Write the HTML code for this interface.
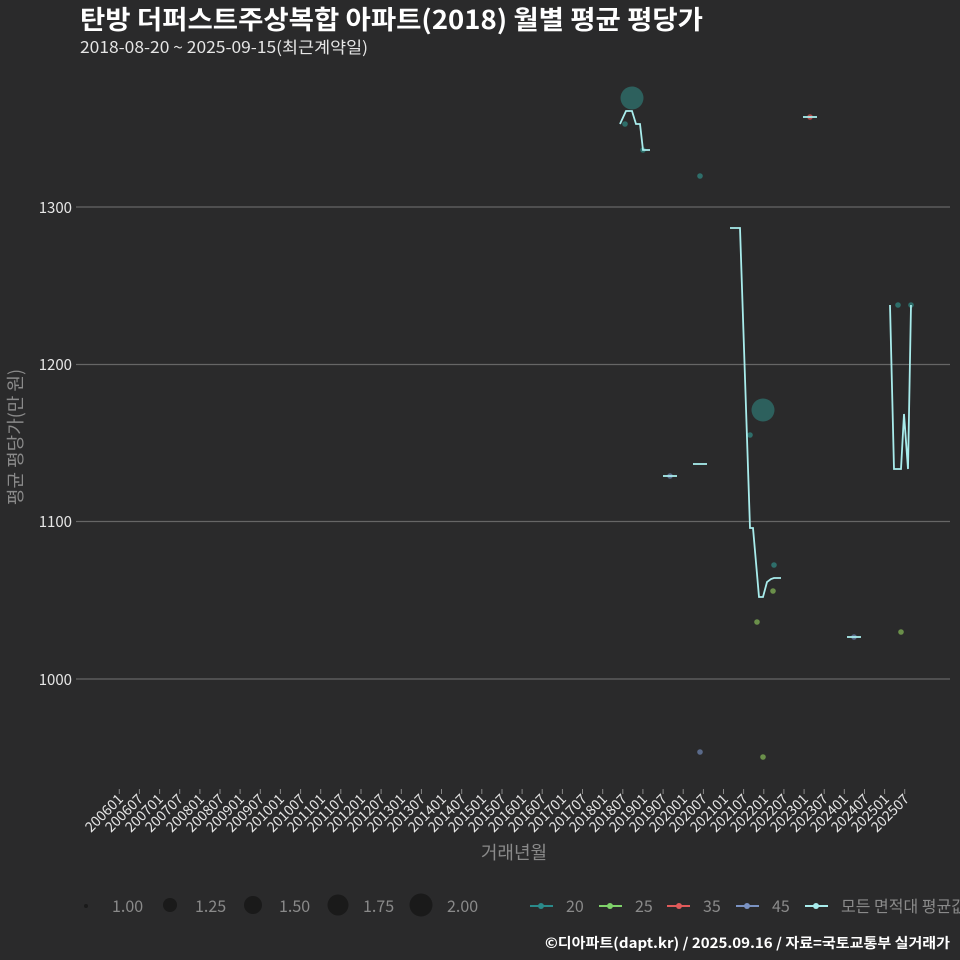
<!DOCTYPE html>
<html><head><meta charset="utf-8"><style>
html,body{margin:0;padding:0;background:#2a2a2b;}
svg{display:block;font-family:"Noto Sans CJK KR","Liberation Sans",sans-serif;}
</style></head><body>
<svg width="960" height="960" viewBox="0 0 960 960" xmlns="http://www.w3.org/2000/svg">
<rect width="960" height="960" fill="#2a2a2b"/>
<text x="80" y="29" fill="#ffffff" font-size="26" font-weight="bold" textLength="623" lengthAdjust="spacingAndGlyphs">탄방 더퍼스트주상복합 아파트(2018) 월별 평균 평당가</text>
<text x="80" y="53" fill="#e6e6e6" font-size="16" textLength="288" lengthAdjust="spacingAndGlyphs">2018-08-20 ~ 2025-09-15(최근계약일)</text>
<g stroke="#666" stroke-width="1.2">
<line x1="80" y1="207" x2="950" y2="207"/>
<line x1="80" y1="364.5" x2="950" y2="364.5"/>
<line x1="80" y1="521.5" x2="950" y2="521.5"/>
<line x1="80" y1="679" x2="950" y2="679"/>
<line x1="76" y1="207" x2="80" y2="207"/><line x1="76" y1="364.5" x2="80" y2="364.5"/><line x1="76" y1="521.5" x2="80" y2="521.5"/><line x1="76" y1="679" x2="80" y2="679"/>
</g>
<g fill="#e6e6e6" font-size="15" text-anchor="end">
<text x="72" y="213">1300</text><text x="72" y="370">1200</text><text x="72" y="527">1100</text><text x="72" y="685">1000</text>
</g>
<text transform="translate(22,437) rotate(-90)" fill="#8a8a8a" font-size="18" text-anchor="middle">평균 평당가(만 원)</text>
<text x="514" y="859" fill="#8a8a8a" font-size="18" text-anchor="middle">거래년월</text>
<g>
<circle cx="632" cy="98" r="11.5" fill="#2e6e6a" opacity="0.8"/>
<circle cx="763" cy="410" r="11.5" fill="#2e6e6a" opacity="0.8"/>
<circle cx="700" cy="176" r="2.8" fill="#2e6e6a"/>
<circle cx="750" cy="435" r="2.8" fill="#2e6e6a"/>
<circle cx="774" cy="565" r="2.8" fill="#2e6e6a"/>
<circle cx="898" cy="305" r="2.8" fill="#2e6e6a"/>
<circle cx="911" cy="305" r="2.8" fill="#2e6e6a"/>
<circle cx="625" cy="124" r="2.8" fill="#2e6e6a"/>
<circle cx="643" cy="150" r="2.8" fill="#2e6e6a"/>
<circle cx="773" cy="591" r="2.8" fill="#6a8f4a"/>
<circle cx="757" cy="622" r="2.8" fill="#6a8f4a"/>
<circle cx="763" cy="757" r="2.8" fill="#6a8f4a"/>
<circle cx="901" cy="632" r="2.8" fill="#6a8f4a"/>
<circle cx="700" cy="752" r="2.8" fill="#5a6a8a"/>
<circle cx="670" cy="476" r="2.8" fill="#5a6a8a"/>
<circle cx="854" cy="637" r="2.8" fill="#5a6a8a"/>
<circle cx="810" cy="117" r="2.8" fill="#b04a4a"/>
</g>
<g fill="none" stroke="#a8ecec" stroke-width="1.8">
<polyline points="620,124 626,111 632,111 636,124 640,124 643,150 650,150"/>
<polyline points="663,476 677,476"/>
<polyline points="693,464 707,464"/>
<polyline points="730,228 740,228 750,528 753,528 759,597 763,597 767,582 771,579 774,578 781,578"/>
<polyline points="803,117 817,117"/>
<polyline points="847,637 861,637"/>
<polyline points="890,305 894,469 901,469 904,414 908,469 911,305"/>
</g>
<g fill="#8a8a8a" font-size="16">
<circle cx="86" cy="906" r="2" fill="#1a1a1a"/><text x="112" y="912">1.00</text>
<circle cx="170" cy="905" r="7" fill="#1a1a1a"/><text x="195" y="912">1.25</text>
<circle cx="253" cy="905" r="9" fill="#1a1a1a"/><text x="279" y="912">1.50</text>
<circle cx="338" cy="905" r="10.5" fill="#1a1a1a"/><text x="363" y="912">1.75</text>
<circle cx="421" cy="905" r="11.5" fill="#1a1a1a"/><text x="447" y="912">2.00</text>
<line x1="530" y1="906" x2="553" y2="906" stroke="#2a8a8a" stroke-width="2"/><circle cx="541" cy="906" r="3" fill="#2a8a8a"/><text x="566" y="912">20</text>
<line x1="599" y1="906" x2="622" y2="906" stroke="#7fd26a" stroke-width="2"/><circle cx="610" cy="906" r="3" fill="#7fd26a"/><text x="635" y="912">25</text>
<line x1="667" y1="906" x2="690" y2="906" stroke="#e05a5a" stroke-width="2"/><circle cx="679" cy="906" r="3" fill="#e05a5a"/><text x="703" y="912">35</text>
<line x1="736" y1="906" x2="759" y2="906" stroke="#7a92c2" stroke-width="2"/><circle cx="747" cy="906" r="3" fill="#7a92c2"/><text x="772" y="912">45</text>
<line x1="805" y1="906" x2="828" y2="906" stroke="#a8ecec" stroke-width="2"/><circle cx="816" cy="906" r="3" fill="#a8ecec"/><text x="841" y="912">모든 면적대 평균값</text>
</g>
<text x="950" y="948" fill="#ffffff" font-size="14" font-weight="bold" text-anchor="end" textLength="405" lengthAdjust="spacingAndGlyphs">©디아파트(dapt.kr) / 2025.09.16 / 자료=국토교통부 실거래가</text>
<g font-size="14" fill="#e6e6e6" text-anchor="end">
<line x1="119.3" y1="789" x2="119.3" y2="794" stroke="#888"/><text transform="translate(124,800) rotate(-45)">200601</text>
<line x1="139.4" y1="789" x2="139.4" y2="794" stroke="#888"/><text transform="translate(144,800) rotate(-45)">200607</text>
<line x1="159.6" y1="789" x2="159.6" y2="794" stroke="#888"/><text transform="translate(164,800) rotate(-45)">200701</text>
<line x1="179.7" y1="789" x2="179.7" y2="794" stroke="#888"/><text transform="translate(184,800) rotate(-45)">200707</text>
<line x1="199.9" y1="789" x2="199.9" y2="794" stroke="#888"/><text transform="translate(205,800) rotate(-45)">200801</text>
<line x1="220.0" y1="789" x2="220.0" y2="794" stroke="#888"/><text transform="translate(225,800) rotate(-45)">200807</text>
<line x1="240.1" y1="789" x2="240.1" y2="794" stroke="#888"/><text transform="translate(245,800) rotate(-45)">200901</text>
<line x1="260.3" y1="789" x2="260.3" y2="794" stroke="#888"/><text transform="translate(265,800) rotate(-45)">200907</text>
<line x1="280.4" y1="789" x2="280.4" y2="794" stroke="#888"/><text transform="translate(285,800) rotate(-45)">201001</text>
<line x1="300.6" y1="789" x2="300.6" y2="794" stroke="#888"/><text transform="translate(306,800) rotate(-45)">201007</text>
<line x1="320.7" y1="789" x2="320.7" y2="794" stroke="#888"/><text transform="translate(326,800) rotate(-45)">201101</text>
<line x1="340.8" y1="789" x2="340.8" y2="794" stroke="#888"/><text transform="translate(346,800) rotate(-45)">201107</text>
<line x1="361.0" y1="789" x2="361.0" y2="794" stroke="#888"/><text transform="translate(366,800) rotate(-45)">201201</text>
<line x1="381.1" y1="789" x2="381.1" y2="794" stroke="#888"/><text transform="translate(386,800) rotate(-45)">201207</text>
<line x1="401.3" y1="789" x2="401.3" y2="794" stroke="#888"/><text transform="translate(406,800) rotate(-45)">201301</text>
<line x1="421.4" y1="789" x2="421.4" y2="794" stroke="#888"/><text transform="translate(426,800) rotate(-45)">201307</text>
<line x1="441.5" y1="789" x2="441.5" y2="794" stroke="#888"/><text transform="translate(447,800) rotate(-45)">201401</text>
<line x1="461.7" y1="789" x2="461.7" y2="794" stroke="#888"/><text transform="translate(467,800) rotate(-45)">201407</text>
<line x1="481.8" y1="789" x2="481.8" y2="794" stroke="#888"/><text transform="translate(487,800) rotate(-45)">201501</text>
<line x1="502.0" y1="789" x2="502.0" y2="794" stroke="#888"/><text transform="translate(507,800) rotate(-45)">201507</text>
<line x1="522.1" y1="789" x2="522.1" y2="794" stroke="#888"/><text transform="translate(527,800) rotate(-45)">201601</text>
<line x1="542.2" y1="789" x2="542.2" y2="794" stroke="#888"/><text transform="translate(547,800) rotate(-45)">201607</text>
<line x1="562.4" y1="789" x2="562.4" y2="794" stroke="#888"/><text transform="translate(567,800) rotate(-45)">201701</text>
<line x1="582.5" y1="789" x2="582.5" y2="794" stroke="#888"/><text transform="translate(588,800) rotate(-45)">201707</text>
<line x1="602.7" y1="789" x2="602.7" y2="794" stroke="#888"/><text transform="translate(608,800) rotate(-45)">201801</text>
<line x1="622.8" y1="789" x2="622.8" y2="794" stroke="#888"/><text transform="translate(628,800) rotate(-45)">201807</text>
<line x1="642.9" y1="789" x2="642.9" y2="794" stroke="#888"/><text transform="translate(648,800) rotate(-45)">201901</text>
<line x1="663.1" y1="789" x2="663.1" y2="794" stroke="#888"/><text transform="translate(668,800) rotate(-45)">201907</text>
<line x1="683.2" y1="789" x2="683.2" y2="794" stroke="#888"/><text transform="translate(688,800) rotate(-45)">202001</text>
<line x1="703.4" y1="789" x2="703.4" y2="794" stroke="#888"/><text transform="translate(708,800) rotate(-45)">202007</text>
<line x1="723.5" y1="789" x2="723.5" y2="794" stroke="#888"/><text transform="translate(729,800) rotate(-45)">202101</text>
<line x1="743.6" y1="789" x2="743.6" y2="794" stroke="#888"/><text transform="translate(749,800) rotate(-45)">202107</text>
<line x1="763.8" y1="789" x2="763.8" y2="794" stroke="#888"/><text transform="translate(769,800) rotate(-45)">202201</text>
<line x1="783.9" y1="789" x2="783.9" y2="794" stroke="#888"/><text transform="translate(789,800) rotate(-45)">202207</text>
<line x1="804.1" y1="789" x2="804.1" y2="794" stroke="#888"/><text transform="translate(809,800) rotate(-45)">202301</text>
<line x1="824.2" y1="789" x2="824.2" y2="794" stroke="#888"/><text transform="translate(829,800) rotate(-45)">202307</text>
<line x1="844.3" y1="789" x2="844.3" y2="794" stroke="#888"/><text transform="translate(849,800) rotate(-45)">202401</text>
<line x1="864.5" y1="789" x2="864.5" y2="794" stroke="#888"/><text transform="translate(870,800) rotate(-45)">202407</text>
<line x1="884.6" y1="789" x2="884.6" y2="794" stroke="#888"/><text transform="translate(890,800) rotate(-45)">202501</text>
<line x1="904.7" y1="789" x2="904.7" y2="794" stroke="#888"/><text transform="translate(910,800) rotate(-45)">202507</text>
</g>
</svg>
</body></html>
